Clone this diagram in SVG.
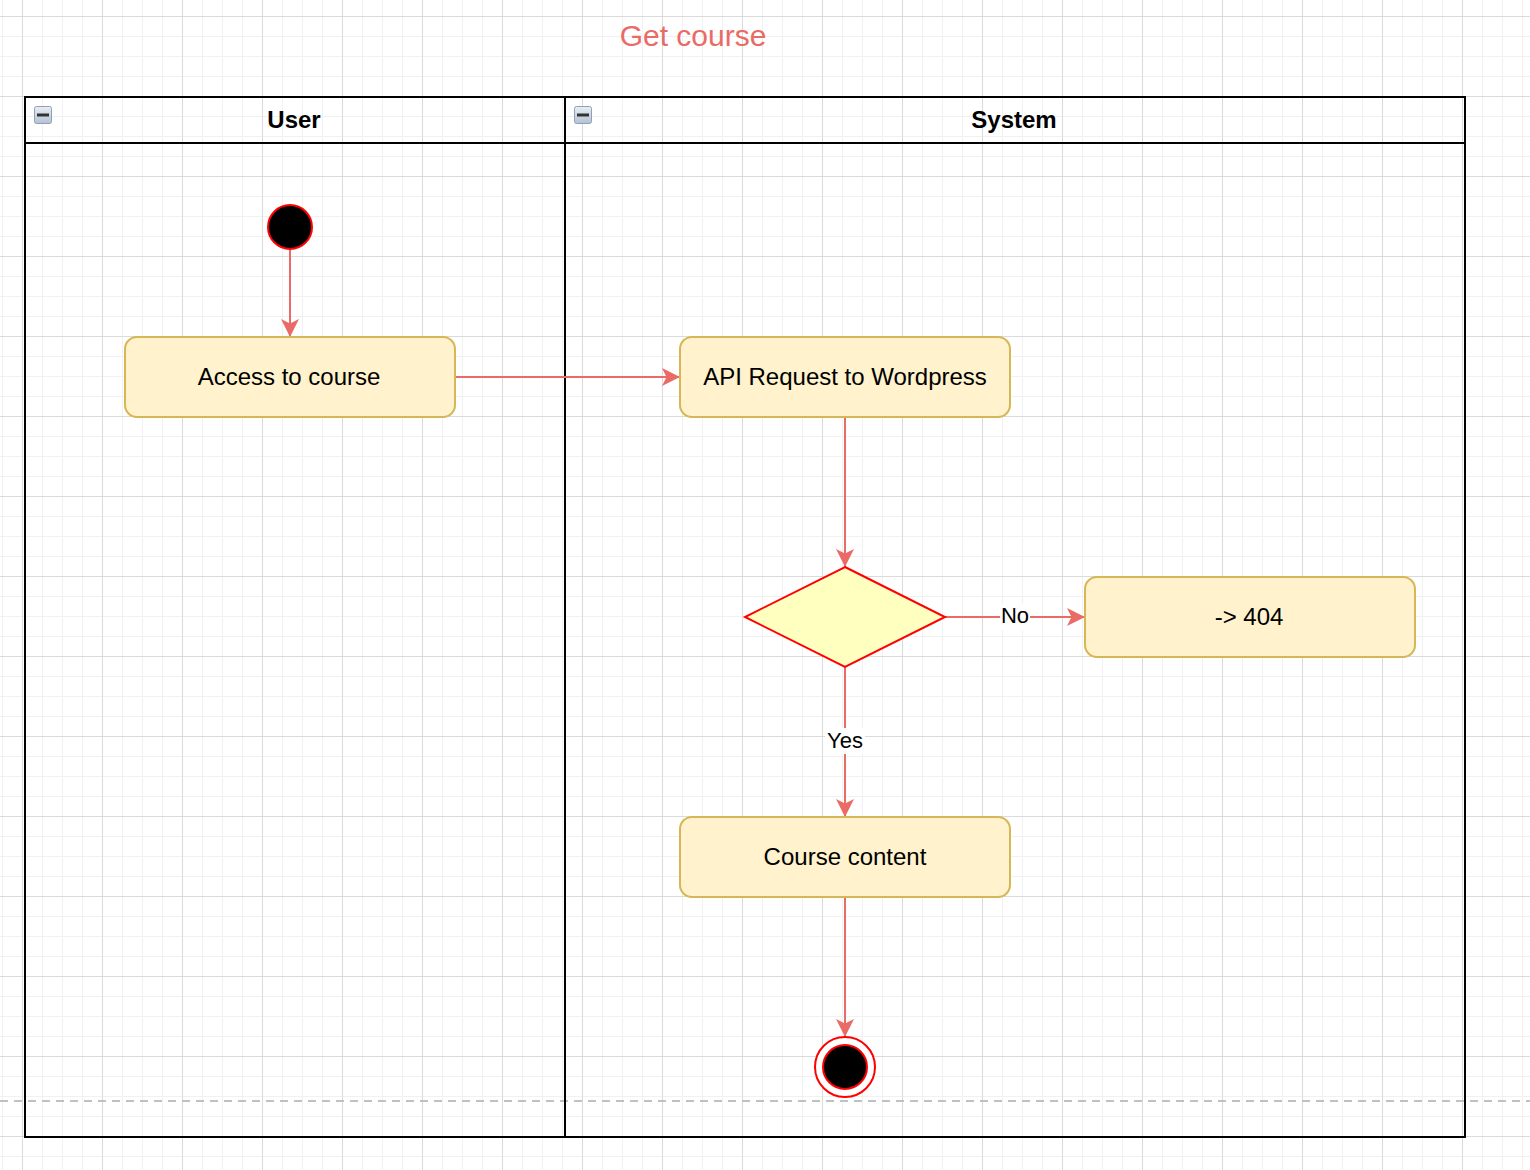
<svg xmlns="http://www.w3.org/2000/svg" width="1530" height="1170" viewBox="0 0 1530 1170">
<style>
.lbl{font-family:"Liberation Sans",Arial,Helvetica,sans-serif;font-size:24px;fill:#000;text-anchor:middle;dominant-baseline:central}
.hdr{font-weight:bold}
.elbl{font-family:"Liberation Sans",Arial,Helvetica,sans-serif;font-size:22px;fill:#000;text-anchor:middle;dominant-baseline:central}
.title{font-family:"Liberation Sans",Arial,Helvetica,sans-serif;font-size:30px;fill:#EA6B66;text-anchor:middle;dominant-baseline:central}
.node{fill:#fff2cc;stroke:#d6b656;stroke-width:2}
.edge{fill:none;stroke:#EA6B66;stroke-width:2}
.lane{fill:none;stroke:#000;stroke-width:2}
</style>
<defs>
<pattern id="minor" patternUnits="userSpaceOnUse" x="2" y="16" width="20" height="20">
<path d="M0,0 H20 M0,0 V20" fill="none" stroke="#f1f1f1" stroke-width="2"/>
</pattern>
<pattern id="major" patternUnits="userSpaceOnUse" x="22" y="16" width="80" height="80">
<path d="M0,0 H80 M0,0 V80" fill="none" stroke="#d4d4d4" stroke-width="1.5"/>
</pattern>
<marker id="arr" markerUnits="userSpaceOnUse" markerWidth="20" markerHeight="20" refX="18" refY="9" orient="auto">
<path d="M0,0 L18,9 L0,18 L4.5,9 Z" fill="#EA6B66"/>
</marker>
<linearGradient id="icg" x1="0" y1="0" x2="0" y2="1">
<stop offset="0" stop-color="#e8eef5"/>
<stop offset="1" stop-color="#b4c2d2"/>
</linearGradient>
</defs>
<rect width="1530" height="1170" fill="#fff"/>
<rect width="1530" height="1170" fill="url(#minor)"/>
<rect width="1530" height="1170" fill="url(#major)"/>
<line x1="0" y1="1101" x2="1530" y2="1101" stroke="#c0c0c0" stroke-width="2" stroke-dasharray="8,6"/>

<text class="title" x="693" y="35">Get course</text>

<g id="lane-user">
<rect x="25" y="97" width="540" height="1040" fill="none" class="lane"/>
<line x1="25" y1="143" x2="565" y2="143" class="lane"/>
<rect x="34.5" y="106.5" width="17" height="17" rx="2" fill="url(#icg)" stroke="#8fa1b5"/>
<rect x="37" y="113.5" width="12" height="3" fill="#333"/>
<text class="lbl hdr" x="294" y="119">User</text>
</g>
<g id="lane-system">
<rect x="565" y="97" width="900" height="1040" fill="none" class="lane"/>
<line x1="565" y1="143" x2="1465" y2="143" class="lane"/>
<rect x="574.5" y="106.5" width="17" height="17" rx="2" fill="url(#icg)" stroke="#8fa1b5"/>
<rect x="577" y="113.5" width="12" height="3" fill="#333"/>
<text class="lbl hdr" x="1014" y="119">System</text>
</g>

<g id="connectors">
<line class="edge" x1="290" y1="249" x2="290" y2="337" marker-end="url(#arr)"/>
<line class="edge" x1="455" y1="377" x2="680" y2="377" marker-end="url(#arr)"/>
<line class="edge" x1="845" y1="417" x2="845" y2="567" marker-end="url(#arr)"/>
<line class="edge" x1="945" y1="617" x2="1085" y2="617" marker-end="url(#arr)"/>
<line class="edge" x1="845" y1="667" x2="845" y2="817" marker-end="url(#arr)"/>
<line class="edge" x1="845" y1="897" x2="845" y2="1037" marker-end="url(#arr)"/>
<rect x="1000" y="604" width="30" height="26" fill="#fff"/>
<text class="elbl" x="1015" y="615">No</text>
<rect x="825" y="728" width="40" height="26" fill="#fff"/>
<text class="elbl" x="845" y="740">Yes</text>
</g>

<g id="start">
<circle cx="290" cy="227" r="22" fill="#000" stroke="#ff0000" stroke-width="2"/>
</g>
<g id="access">
<rect class="node" x="125" y="337" width="330" height="80" rx="12"/>
<text class="lbl" x="289" y="376">Access to course</text>
</g>
<g id="api">
<rect class="node" x="680" y="337" width="330" height="80" rx="12"/>
<text class="lbl" x="845" y="376">API Request to Wordpress</text>
</g>
<g id="decision">
<polygon points="845,567 945,617 845,667 745,617" fill="#ffffc0" stroke="#ff0000" stroke-width="2"/>
</g>
<g id="notfound">
<rect class="node" x="1085" y="577" width="330" height="80" rx="12"/>
<text class="lbl" x="1249" y="616">-&gt; 404</text>
</g>
<g id="content">
<rect class="node" x="680" y="817" width="330" height="80" rx="12"/>
<text class="lbl" x="845" y="856">Course content</text>
</g>
<g id="end">
<circle cx="845" cy="1067" r="30" fill="#fff" stroke="#ff0000" stroke-width="2"/>
<circle cx="845" cy="1067" r="22" fill="#000" stroke="#ff0000" stroke-width="2"/>
</g>
</svg>
